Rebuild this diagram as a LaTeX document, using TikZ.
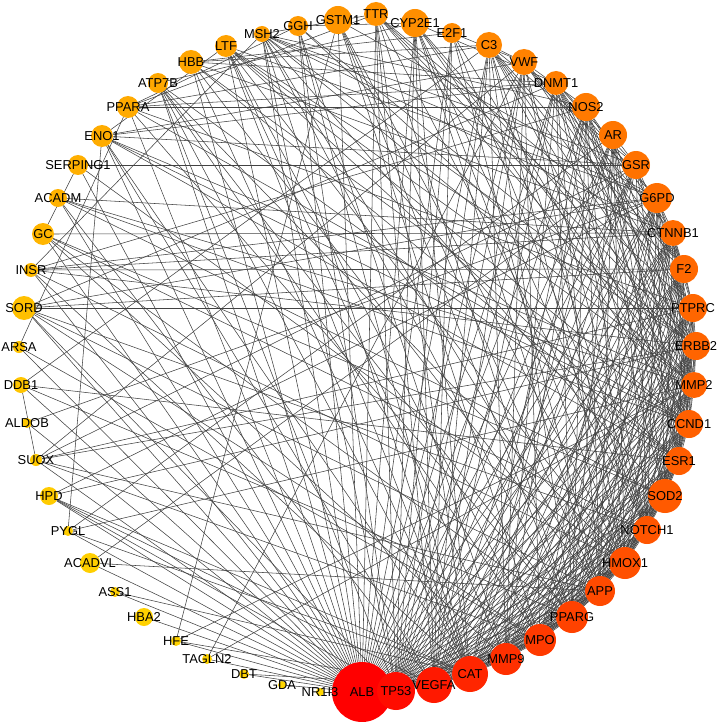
\documentclass[tikz,border=0pt]{standalone}
\usepackage{fontspec}
\setmainfont{Liberation Sans}
\pgfdeclarelayer{background}
\pgfsetlayers{background,main}
\begin{document}
\begin{tikzpicture}[x=1pt,y=-1pt,
  gene/.style={circle,draw=none,inner sep=0pt,outer sep=0pt},
  genelabel/.style={inner sep=0pt,font=\fontsize{12.9}{14}\selectfont,text=black},
  edge/.style={draw=black!74,line width=0.55pt}]
\useasboundingbox (0,0) rectangle (720,722);
\def\genes{ALB/362/692/30/0/0, TP53/396/691/19/12/1, VEGFA/434/685/18/25/2, CAT/470/674/18/38/3,
 MMP9/506/659/16/48/4, MPO/540/640/16/58/5, PPARG/572/617/16/66/6, APP/600/591/15/74/7,
 HMOX1/625/563/16/80/8, NOTCH1/647/530/14/85/9, SOD2/665/496/17/90/10, ESR1/679/461/14/93/11,
 CCND1/689/424/14/96/12, MMP2/694/385/13/98/13, ERBB2/696/346/14/100/14, PTPRC/693/308/14/102/15,
 F2/684/269/14/104/16, CTNNB1/673/233/13/107/17, G6PD/657/198/15/110/18, GSR/636/165/14/114/19,
 AR/613/135/14/118/20, NOS2/586/107/14/122/21, DNMT1/556/83/12/126/22, VWF/524/62/13/130/23,
 C3/489/45/13/134/24, E2F1/452/33/10/138/25, CYP2E1/415/23/14/142/26, TTR/376/14/12/146/27,
 GSTM1/338/20/14/150/28, GGH/298/26/10/154/29, MSH2/262/34/8/158/30, LTF/226/46/11/162/31,
 HBB/191/62/12/165/32, ATP7B/158/83/10/168/33, PPARA/128/107/11/170/34, ENO1/102/136/11/172/35,
 SERPING1/78/165/10/175/36, ACADM/58/198/9/178/37, GC/43/234/11/181/38, INSR/31/270/7/186/39,
 SORD/24/308/12/192/40, ARSA/19/347/6/195/41, DDB1/21/385/8/197/42, ALDOB/27/423/5/199/43,
 SUOX/36/460/6/201/44, HPD/49/496/9/203/45, PYGL/68/531/5/205/46, ACADVL/90/563/10/207/47,
 ASS1/115/592/5/208/48, HBA2/144/617/9/209/49, HFE/176/641/5/210/50, TAGLN2/207/659/5/211/51,
 DBT/244/674/5/212/52, GDA/282/685/4/213/53, NR1I3/320/692/4/215/54}
% circles
\foreach \nm/\px/\py/\rr/\gg/\idx in \genes {
  \definecolor{nodecol}{RGB}{255,\gg,0}
  \node[gene,fill=nodecol,minimum size=2*\rr pt,alias=n\idx] (\nm) at (\px,\py) {};
}
% labels
\foreach \nm/\px/\py/\rr/\gg/\idx in \genes {
  \node[genelabel] (t\idx) at (\nm.center) {\nm};
}
% edges
\def\W{{0,40,38,36,34,33,32,31,30,29,28,27,26,25,24,23,22,21,20,19,18,17,16,15,14,13,13,12,12,11,10,10,9,9,8,8,6,6,5,5,4,4,3,3,3,3,3,3,2,2,2,2,2,1,1}}
\def\S{790}
\pgfmathsetseed{57}
\begin{pgfonlayer}{background}
\foreach \j in {1,...,54} { \draw[edge] (n0) -- (n\j); }
\draw[edge] (PPARA) -- (NOS2);
\draw[edge] (INSR) -- (F2);
\foreach \i in {1,...,53} {
  \pgfmathtruncatemacro\nxt{\i+1}
  \pgfmathsetmacro\wi{\W[\i]}
  \foreach \j in {\nxt,...,54} {
    \pgfmathsetmacro\wj{\W[\j]}
    \pgfmathtruncatemacro\ok{rnd < \wi*\wj/\S}
    \ifnum\ok=1 \draw[edge] (n\i) -- (n\j); \fi
  }
}
\end{pgfonlayer}
\end{tikzpicture}
\end{document}
